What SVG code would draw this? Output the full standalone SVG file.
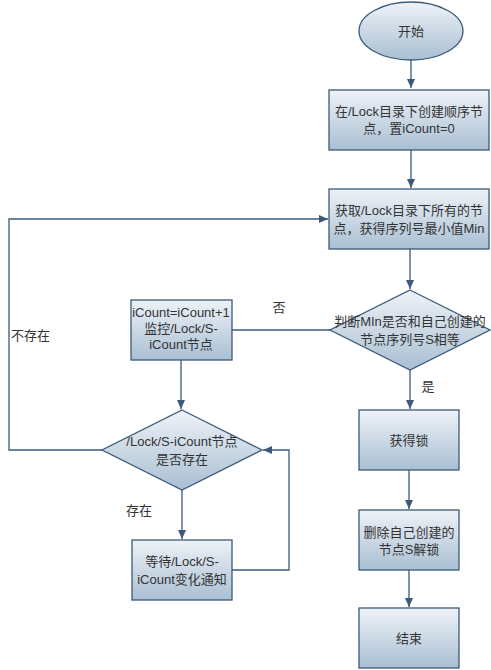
<svg xmlns="http://www.w3.org/2000/svg" width="491" height="670" viewBox="0 0 491 670">
<defs>
<linearGradient id="g" x1="0" y1="0" x2="0" y2="1">
<stop offset="0" stop-color="#eef2f7"/>
<stop offset="1" stop-color="#a9bfd3"/>
</linearGradient>
<marker id="a" markerWidth="10" markerHeight="10" refX="9" refY="4" orient="auto" markerUnits="userSpaceOnUse">
<path d="M0,0 L9,4 L0,8 z" fill="#3c5a77"/>
</marker>
</defs>
<style>
.n{fill:url(#g);stroke:#3c5a77;stroke-width:1.3}
.c{fill:none;stroke:#3c5a77;stroke-width:1.3}
text{font-family:"Liberation Sans","Noto Sans CJK SC",sans-serif;font-size:13px;fill:#333;text-anchor:middle}
.l{text-anchor:start}
</style>
<rect width="491" height="670" fill="#fff"/>
<g id="connectors">
<path class="c" d="M411,60 V88" marker-end="url(#a)"/>
<path class="c" d="M411,150 V188" marker-end="url(#a)"/>
<path class="c" d="M410,249 V289" marker-end="url(#a)"/>
<path class="c" d="M330,330 H232"/>
<path class="c" d="M410,370 V409" marker-end="url(#a)"/>
<path class="c" d="M409,470 V509" marker-end="url(#a)"/>
<path class="c" d="M409,570 V607" marker-end="url(#a)"/>
<path class="c" d="M181,360 V409" marker-end="url(#a)"/>
<path class="c" d="M182,490 V539" marker-end="url(#a)"/>
<path class="c" d="M102,450 H9 V219 H328" marker-end="url(#a)"/>
<path class="c" d="M232,570 H289 V450 H263" marker-end="url(#a)"/>
<text x="279" y="312">否</text>
<text x="428" y="391">是</text>
<text class="l" x="11" y="340">不存在</text>
<text class="l" x="126" y="515">存在</text>
</g>
<g id="start">
<ellipse class="n" cx="411" cy="31" rx="52" ry="29"/>
<text x="411" y="36">开始</text>
</g>
<g id="create">
<rect class="n" x="329" y="90" width="160" height="60"/>
<text x="409" y="116">在/Lock目录下创建顺序节</text>
<text x="409" y="133">点，置iCount=0</text>
</g>
<g id="getall">
<rect class="n" x="329" y="189" width="160" height="60"/>
<text x="409" y="215">获取/Lock目录下所有的节</text>
<text x="409" y="233">点，获得序列号最小值Min</text>
</g>
<g id="judge">
<polygon class="n" points="410,290 490,330 410,370 330,330"/>
<text x="410" y="326">判断MIn是否和自己创建的</text>
<text x="410" y="344">节点序列号S相等</text>
</g>
<g id="watch">
<rect class="n" x="131" y="300" width="101" height="60"/>
<text x="181" y="317">iCount=iCount+1</text>
<text x="181" y="333">监控/Lock/S-</text>
<text x="181" y="349">iCount节点</text>
</g>
<g id="exists">
<polygon class="n" points="182,410 262,450 182,490 102,450"/>
<text x="182" y="446">/Lock/S-iCount节点</text>
<text x="182" y="464">是否存在</text>
</g>
<g id="wait">
<rect class="n" x="132" y="540" width="100" height="60"/>
<text x="182" y="566">等待/Lock/S-</text>
<text x="182" y="584">iCount变化通知</text>
</g>
<g id="getlock">
<rect class="n" x="359" y="410" width="100" height="60"/>
<text x="409" y="445">获得锁</text>
</g>
<g id="unlock">
<rect class="n" x="359" y="510" width="100" height="60"/>
<text x="409" y="537">删除自己创建的</text>
<text x="409" y="554">节点S解锁</text>
</g>
<g id="end">
<rect class="n" x="359" y="608" width="100" height="60"/>
<text x="409" y="643">结束</text>
</g>
</svg>
